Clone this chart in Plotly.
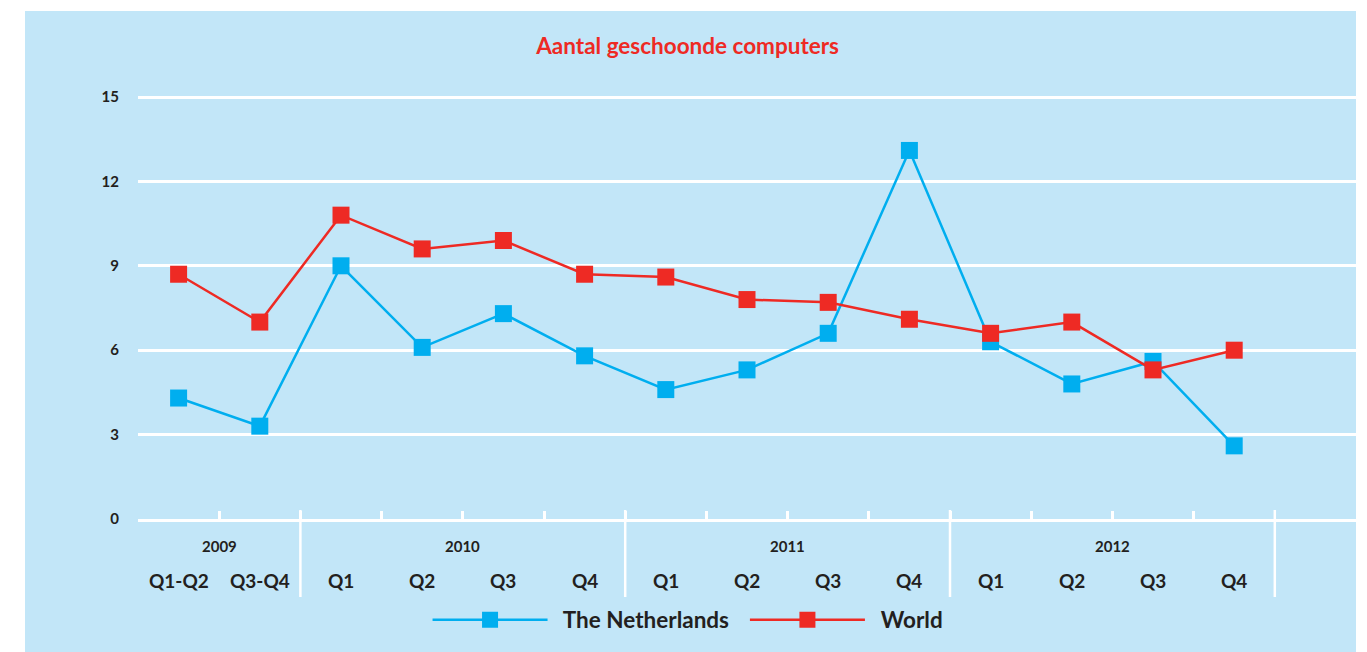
import plotly.graph_objects as go

title_text = "Aantal geschoonde computers"
years = ["2009", "2010", "2011", "2012"]
year_groups = [[0, 1], [2, 3, 4, 5], [6, 7, 8, 9], [10, 11, 12, 13]]
quarters = ["Q1-Q2", "Q3-Q4", "Q1", "Q2", "Q3", "Q4", "Q1", "Q2", "Q3", "Q4",
            "Q1", "Q2", "Q3", "Q4"]
netherlands = [4.3, 3.3, 9.0, 6.1, 7.3, 5.8, 4.6, 5.3, 6.6, 13.1, 6.3, 4.8, 5.6, 2.6]
world = [8.7, 7.0, 10.8, 9.6, 9.9, 8.7, 8.6, 7.8, 7.7, 7.1, 6.6, 7.0, 5.3, 6.0]
y_ticks = [0, 3, 6, 9, 12, 15]

BLUE = "#00aeef"
RED = "#ee2a24"
BG = "#c2e6f8"
TXT = "#231f20"
FONT = "Lato"
NB = "\u00a0"

x = list(range(len(quarters)))

fig = go.Figure()
fig.add_trace(go.Scatter(
    x=x, y=netherlands, name=NB * 2 + "The Netherlands" + NB * 2, mode="lines+markers",
    line=dict(color=BLUE, width=2.5),
    marker=dict(symbol="square", size=17, color=BLUE),
    cliponaxis=False,
))
fig.add_trace(go.Scatter(
    x=x, y=world, name=NB * 2 + "World", mode="lines+markers",
    line=dict(color=RED, width=2.5),
    marker=dict(symbol="square", size=17, color=RED),
    cliponaxis=False,
))

W, H = 1367, 652
ml, mr, mt, mb = 138, 11, 88, 133
ph = H - mt - mb
pw = W - ml - mr

shapes = []
# blue panel
shapes.append(dict(type="rect", xref="paper", yref="paper",
                   x0=(25 - ml) / pw, x1=(1356 - ml) / pw,
                   y0=-(mb) / ph - 0.01, y1=(H - 11 - mb) / ph,
                   fillcolor=BG, line=dict(width=0), layer="below"))
# year separators
for g in year_groups:
    sx = g[-1] + 0.5
    shapes.append(dict(type="line", xref="x", yref="paper", ysizemode="pixel",
                       yanchor=0, x0=sx, x1=sx, y0=9, y1=-78,
                       line=dict(color="white", width=2.5)))

annotations = []
for i, q in enumerate(quarters):
    annotations.append(dict(x=i, y=0, xref="x", yref="paper", yanchor="middle",
                            yshift=-61, text=q, showarrow=False,
                            font=dict(family=FONT, size=19, color=TXT, weight="bold")))
for yr, g in zip(years, year_groups):
    annotations.append(dict(x=(g[0] + g[-1]) / 2, y=0, xref="x", yref="paper",
                            yanchor="middle", yshift=-27, text=yr, showarrow=False,
                            font=dict(family=FONT, size=15, color=TXT, weight="bold")))

fig.update_layout(
    width=W, height=H,
    margin=dict(l=ml, r=mr, t=mt, b=mb, pad=0),
    paper_bgcolor="white",
    plot_bgcolor="rgba(0,0,0,0)",
    title=dict(text=title_text, x=0.503, xref="container", xanchor="center",
               y=1 - 46 / H, yref="container", yanchor="middle",
               font=dict(family=FONT, size=22.5, color=RED, weight="bold")),
    xaxis=dict(range=[-0.5, len(quarters) + 0.5],
               tickmode="array", tickvals=[i - 0.5 for i in x],
               ticks="inside", ticklen=8, tickwidth=2.5, tickcolor="white",
               showticklabels=False, showgrid=False, zeroline=False,
               showline=True, linecolor="white", linewidth=3),
    yaxis=dict(range=[0, 15 * ph / (519 - 97)], tickmode="array", tickvals=y_ticks,
               showgrid=True, gridcolor="white", gridwidth=3, zeroline=False,
               showline=False, ticks="", ticklabelstandoff=18,
               tickfont=dict(family=FONT, size=15, color=TXT, weight="bold")),
    legend=dict(orientation="h", x=0.4516, xanchor="center", y=-(620 - 519) / ph,
                yanchor="middle", bgcolor="rgba(0,0,0,0)",
                font=dict(family=FONT, size=22.5, color=TXT, weight="bold"),
                itemwidth=115),
    shapes=shapes,
    annotations=annotations,
    showlegend=True,
)

fig.write_html("out.html", config={"displayModeBar": False},
               post_script="document.body.style.margin='0';document.body.style.overflow='hidden';")
